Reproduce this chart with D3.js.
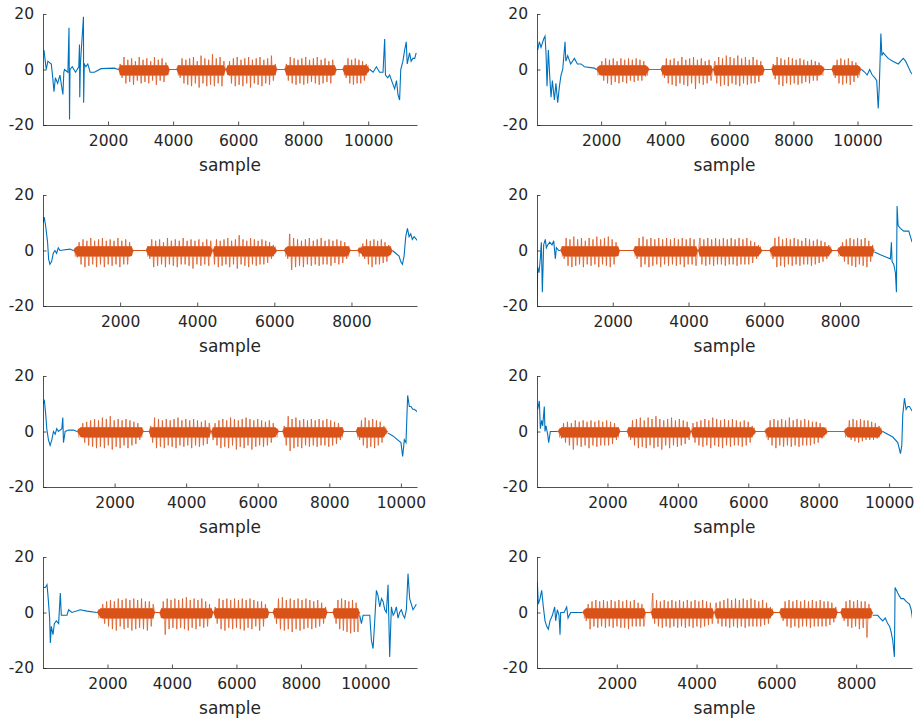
<!DOCTYPE html>
<html>
<head>
<meta charset="utf-8">
<style>
  body { margin: 0; background: #fff; }
  text { font-family: "DejaVu Sans", sans-serif; fill: #262626; }
  .axis path, .axis line { stroke: #262626; stroke-width: 0.8; }
</style>
</head>
<body>
<svg id="fig" width="914" height="721"></svg>
<script src="https://d3js.org/d3.v7.min.js"></script>
<script>
// ---- data ----
const sampleCount = [11500, 11700, 9700, 9900, 10450, 10650, 11600, 9400];
const xTicks = [2000, 4000, 6000, 8000, 10000];
const yTicks = [-20, 0, 20];

// blue trace before the first burst, [sample, value]
const blueHead = [
  [[30,7],[100,0],[150,3],[255,2],[300,-3],[337,-8],[380,-3],[450,-5],[520,-2],[612,-9],[640,-1],[663,0],[765,-1],[800,15],[816,-18],[830,0],[900,1],[1000,-1],[1100,1],[1122,9],[1130,-10],[1150,2],[1244,19],[1250,-12],[1270,2],[1320,1],[1377,2],[1450,-1],[1581,-1],[1785,0.3],[2193,0.5],[2315,0]],
  [[21,7],[73,10],[125,8],[208,11],[250,12],[281,6],[313,-6],[354,7],[400,-3],[438,-10],[480,-4],[542,-11],[590,-5],[646,-12],[700,-6],[750,-2],[802,0],[875,10],[900,3],[958,5],[1050,2],[1167,4],[1260,2],[1375,2],[1479,1],[1792,0.5],[1844,0]],
  [[6,10],[32,12],[67,9],[93,6],[119,3],[145,-3],[179,-5],[223,-4],[266,-1],[310,0],[353,-1],[396,1],[440,0],[526,0.2],[699,0.5],[786,0]],
  [[0,-20],[18,-6],[53,-8],[88,-3],[115,3],[141,-15],[176,2],[220,4],[247,1],[282,2],[335,3],[397,2],[441,3.5],[485,-3],[511,1],[573,0],[617,0]],
  [[0,10],[40,11],[77,6],[105,1],[152,-3],[199,-5],[246,-3],[292,0],[339,-1],[386,1],[432,0],[526,1],[553,5],[572,-4],[619,0],[712,0.5],[852,0.5],[946,0]],
  [[19,8],[66,11],[95,1],[133,4],[161,2],[208,9],[227,0],[256,2],[303,-1],[331,-4],[379,0],[445,0],[540,0],[587,0]],
  [[0,9],[72,9],[124,10],[155,6],[206,-2],[227,-11],[258,-5],[310,-8],[351,-4],[413,-3],[485,-4],[537,7],[568,-1],[640,-1],[743,-1],[795,1],[898,0],[1156,1],[1362,0.5],[1672,0]],
  [[8,11],[33,3],[75,5],[117,8],[159,2],[201,-3],[243,-5],[284,-6],[326,-3],[385,-1],[443,2],[468,-3],[510,1],[552,-1],[577,-8],[594,0],[678,0],[744,2],[778,-2],[845,0],[970,0],[1096,0],[1138,0]]
];

// blue trace after the last burst
const blueTail = [
  [[10050,0],[10150,-1],[10251,1],[10350,-1],[10455,-1],[10506,11],[10530,-2],[10600,-3],[10659,-2],[10750,-5],[10812,-7],[10870,-4],[10914,-9],[10965,-11],[11000,0],[11067,3],[11120,7],[11169,10],[11200,2],[11271,6],[11320,3],[11373,4],[11430,4],[11475,6]],
  [[10125,0],[10229,-1],[10300,-2],[10380,0],[10460,-2],[10542,-3],[10600,-4],[10646,-14],[10680,-6],[10729,13],[10760,5],[10802,6],[10880,5],[10958,4],[11100,3],[11271,2],[11427,4],[11500,3],[11583,1],[11660,-1],[11740,-2]],
  [[9062,0],[9148,-1],[9235,-2],[9278,-4],[9322,-5],[9365,-2],[9408,5],[9452,8],[9495,5],[9538,6],[9580,4],[9625,5],[9712,3.5]],
  [[8907,-0.5],[9066,-1.5],[9242,-2.5],[9330,-3],[9356,3],[9374,-4],[9418,-5],[9462,-8],[9489,-15],[9506,16],[9533,9],[9594,8],[9683,7],[9815,7],[9903,3]],
  [[9630,-0.5],[9769,-1.5],[9909,-3],[10002,-4],[10049,-9],[10096,-3],[10142,-4],[10189,13],[10236,9],[10283,9],[10330,8],[10376,8],[10470,7]],
  [[9820,0],[9962,-1],[10104,-2],[10246,-4],[10322,-8],[10360,-5],[10388,6],[10436,12],[10483,8],[10530,9],[10578,9],[10672,7]],
  [[9825,-1],[9876,-4],[9928,-1],[10083,-1],[10134,-1],[10186,-10],[10238,-13],[10289,-3],[10341,8],[10392,6],[10444,2],[10500,5],[10547,4],[10600,1],[10650,0],[10702,10],[10753,-16],[10805,2],[10860,-1],[10908,0],[10960,2],[11011,-2],[11060,0],[11115,1],[11170,-1],[11218,-2],[11270,1],[11321,14],[11373,5],[11424,3],[11476,1],[11530,2],[11579,3]],
  [[8415,-1],[8540,-1],[8600,-2],[8666,-3],[8730,-2],[8791,-4],[8840,-5],[8875,-7],[8917,-10],[8959,-16],[8976,9],[9010,8],[9043,7],[9080,6],[9126,5],[9190,5],[9252,4],[9336,3],[9380,1],[9420,-3]]
];

// orange bursts, [first sample, last sample]
const bursts = [
  [[2315,3896],[4100,5620],[5620,7200],[7425,9027],[9210,10050]],
  [[1844,3510],[3854,5490],[5490,7100],[7313,8979],[9188,10125]],
  [[786,2346],[2667,4400],[4400,6072],[6245,7979],[8152,9062]],
  [[617,2187],[2540,4250],[4250,5952],[6129,7804],[7919,8907]],
  [[946,2814],[2954,4699],[4699,6595],[6689,8416],[8742,9630]],
  [[587,2367],[2547,4375],[4375,6222],[6458,8258],[8712,9820]],
  [[1672,3478],[3612,5284],[5284,7018],[7121,8824],[8978,9825]],
  [[1138,2727],[2852,4442],[4442,5947],[6073,7537],[7604,8415]]
];

// peak values inside each burst, left to right
const spikes = [
  [
    [2,-3,4.5,-5,3.5,-4.5,4,-5.5,3,-4,4.5,-5,3.5,-4.5,4,-5,3,-4,4.5,-5.5,3.5,-4,4,-4.5,2.5,-2],
    [1.5,-3,4,-5,3.5,-5.5,4,-6,4.5,-5,3,-6.5,5,-5,4,-6,3.5,-5.5,5.5,-6,4,-5,4.5,-6,3],
    [-2,3,-5,4,-6,4.5,-5.5,3.5,-6,4,-5,4.5,-6.5,3.5,-5,4,-5.5,4.5,-6,3.5,-5,4,-5.5,5,-4,2],
    [2,-4,4.5,-5,4,-5.5,3.5,-5,4,-5.5,4.5,-5,3.5,-4.5,4,-5,4.5,-5.5,3.5,-5,4,-4.5,3,-5,3.5,-2],
    [1.5,-3,4,-5,3.5,-5.5,4,-5,3.5,-5,3,-4,2,-1]
  ],
  [
    [1,-2,3,-4,4,-5,3.5,-5.5,4,-4.5,3,-5,4,-4.5,3.5,-5,4,-4,3.5,-4.5,4,-4,3.5,-4,3,-2.5,1],
    [1.5,-3,4,-5,3.5,-5.5,4,-6,3,-5,4.5,-5.5,3.5,-6,4,-5,4.5,-7,3.5,-5,4,-5.5,3,-5,3.5,-4],
    [3,-5,4.5,-6,4,-5.5,5,-6,4.5,-5,4,-5.5,5,-6,4,-5,4.5,-5.5,3.5,-5,4.5,-5,3.5,-4.5,3,-2],
    [2,-3.5,4.5,-5.5,4,-6,3.5,-5,4.5,-5.5,4,-5,3.5,-5.5,4,-5,3.5,-4.5,3,-5,3.5,-4,3,-4,2.5,-2,1],
    [1.5,-3,3.5,-5,4,-5.5,3.5,-5,4,-5.5,3,-4.5,2.5,-3,1]
  ],
  [
    [1,-2.5,3,-5,4,-6,3.5,-5.5,4.5,-5,3.5,-6,4,-5,4.5,-6,3.5,-5,4,-5.5,3.5,-5,4.5,-6,3.5,-5,4,-5,3,-2],
    [1.5,-3,4,-6,3.5,-5.5,4,-5,3,-6,4.5,-5,3.5,-5.5,4,-6,3.5,-5,4.5,-5,3.5,-5.5,4,-6.5,3.5,-5,4,-5.5,3,-5,4,-5.5,3.5],
    [-5,4,-6,3.5,-5.5,4,-5,4.5,-6,3.5,-5,4,-6.5,5.5,-5,4,-5.5,3.5,-6,4.5,-5,4,-5.5,3.5,-5,4,-5,3.5,-4.5,3,-3,2,-1],
    [1,-3,6,-7,4.5,-6,4,-5.5,3.5,-6,4,-5,4.5,-5.5,3.5,-5,4,-5.5,4.5,-5,3.5,-5,4,-5.5,3.5,-4.5,4,-5,3.5,-4.5,3,-3,1.5],
    [1,-1,2.5,-3,4,-5,3.5,-6,4,-5,3.5,-5,4,-4.5,3,-4,2,-1.5]
  ],
  [
    [1.5,-3,4.5,-5.5,4,-6,5,-5.5,4,-5,4.5,-6,3.5,-5,4.5,-5.5,4,-5,5,-6,4,-5,4.5,-5.5,5,-6,4,-5,3,-2],
    [1.5,-3,4.5,-6,5,-5,4,-6,4.5,-5.5,4,-5,4.5,-6,4,-5,4.5,-5.5,4,-5,4.5,-5.5,4,-5,4.5,-6,4,-5,4.5,-5,4,-5.5],
    [4.5,-5,4,-5.5,4.5,-5,4,-5.5,4.5,-5,4,-5,4.5,-5.5,4,-5,4.5,-5,4,-5.5,4.5,-5,4,-5,4.5,-5,3.5,-4.5,3,-3,2,-1],
    [1,-3,4.5,-6,5,-5.5,4,-6,4.5,-5,4,-5.5,4.5,-5,4,-5.5,3.5,-5,4.5,-5,4,-5.5,3.5,-5,4,-4.5,3.5,-4,3,-3,2,-1],
    [1,-2,3,-4,4,-5,4.5,-5.5,4,-6,4.5,-5,4,-5.5,4.5,-6,3.5,-4,2]
  ],
  [
    [1,-2,3,-4,3.5,-5,4,-5.5,4.5,-6,4,-5.5,5,-6,4.5,-5,5.5,-6.5,4,-5.5,4.5,-6,4,-5,4.5,-6,4,-5,3.5,-4.5,3,-3,1.5],
    [2,-4,5,-6,4.5,-5.5,4,-6,4.5,-5,4,-5.5,4.5,-6,5,-5,4,-5.5,4.5,-5,4,-6,4.5,-5,4,-5.5,3.5,-5,4,-4.5,3],
    [-3,3,-5,4,-6,4.5,-5.5,4,-6,5,-5,4.5,-6.5,4,-5.5,4.5,-6,5,-5,4.5,-6.5,4,-5.5,4.5,-5,4,-5.5,3.5,-5,4,-4,3,-2,1],
    [2,-5,5.5,-7,4.5,-6,5,-5.5,4,-6,4.5,-5,4,-5.5,4.5,-5,4,-5.5,4.5,-5,4,-5,4.5,-5.5,4,-5,3.5,-4.5,3,-3,1.5],
    [1.5,-3,4,-5,5,-6,4,-5.5,4.5,-6,4,-5,3.5,-4,2,-1]
  ],
  [
    [1,-2.5,3,-4,3.5,-5,3,-6.5,4,-5,3.5,-5.5,4,-5,3.5,-6,4,-5,3.5,-5.5,4,-5,3.5,-5,4,-5,3.5,-4.5,3,-3,1.5],
    [1.5,-3,4,-5,4.5,-6,5,-5.5,4,-6,5,-5,4.5,-6,5.5,-5.5,4.5,-6.5,4,-5,4.5,-6,5,-5,4,-5.5,4.5,-5,4,-4.5,3.5,-3],
    [3,-4,3.5,-5,4,-5.5,4.5,-5,4,-6,5,-5,4.5,-5.5,4,-6,4.5,-5,4,-5.5,4.5,-5,4,-5,3.5,-5.5,4,-5,3.5,-4,2,-1],
    [1,-3,4,-5,4.5,-6,4,-5,4.5,-5.5,4,-5,5,-5.5,4,-5,4.5,-5.5,4,-5,4.5,-5,4,-5,3.5,-4.5,3.5,-4,3,-2.5,1.5,-1],
    [1,-2,4,-3,4.5,-3.5,4,-4,4.5,-3.5,4,-3,4,-3,3.5,-3,3,-2.5,2,-1]
  ],
  [
    [1,-2,3,-4,4,-5,4.5,-6,4,-6.5,5,-5,4.5,-6,5,-5.5,4.5,-6.5,5,-6,4.5,-5.5,5,-6,4,-6.5,4,-5,3],
    [-2,4,-8,5,-6,4.5,-5.5,5,-6,4.5,-5.5,5,-6,5.5,-6.5,4.5,-5.5,5,-6,4.5,-5,5,-5.5,4,-5,3,-2],
    [2,-4,5,-6,4.5,-6.5,5,-5.5,4.5,-6,5,-5.5,4.5,-6,5,-6.5,4.5,-5.5,5,-6,4.5,-5,4,-6.5,4,-5,3,-2],
    [1.5,-4,5,-6,5.5,-6.5,4.5,-6,5,-7,4.5,-6,5,-6.5,4.5,-6,5,-5.5,4.5,-6,4,-5.5,4.5,-5,3.5,-4,2],
    [1.5,-4,4.5,-6,5,-6.5,4.5,-7,4,-7.5,4.5,-7,3.5,-7]
  ],
  [
    [1,-3,3,-6,4,-5,4.5,-5.5,4,-5,4.5,-5.5,4,-5,4.5,-5.5,4,-5,4.5,-5.5,4,-5.5,4.5,-6,4,-5,4.5,-5,3.5,-5,3,-5],
    [7,-4,4.5,-5,4,-5.5,4.5,-5,4,-5.5,4.5,-5,4,-5.5,4.5,-5,4,-5.5,4.5,-5,4,-5.5,4.5,-5,4,-5.5,4.5,-5,4,-4.5,3.5,-4],
    [3.5,-4,4,-5,4.5,-5,5,-5.5,4.5,-5,5,-5.5,4.5,-5,5,-5.5,4.5,-5,5,-5,4.5,-5,4,-5,4.5,-4.5,3.5,-4,2,-1],
    [1.5,-3,4,-5,4.5,-5.5,4,-5,4.5,-5.5,4,-5,4.5,-5,4,-5.5,4.5,-5,4,-5,4.5,-5,4,-5,4,-4.5,3.5,-3.5,2],
    [1.5,-3,4,-5,4.5,-5.5,4,-5,4.5,-6,4,-5.5,4,-9,3,-2]
  ]
];

// ---- layout ----
const colLeft = [43, 537];
const colRight = [417, 912];
const rowTop = [14, 195, 376, 557];
const plotH = 111;
const blue = '#0072BD';
const orange = '#D95319';
const coreHi = 1.5, coreLo = -2.2;   // dense middle of a burst

const svg = d3.select('#fig');

sampleCount.forEach((n, i) => {
  const col = i % 2;
  const row = Math.floor(i / 2);
  const left = colLeft[col], right = colRight[col];
  const top = rowTop[row], bottom = top + plotH;

  const x = d3.scaleLinear().domain([0, n]).range([left, right]);
  const y = d3.scaleLinear().domain([-20, 20]).range([bottom, top]);

  const g = svg.append('g');

  svg.append('clipPath').attr('id', 'clip' + i)
    .append('rect').attr('x', left).attr('y', top - 1).attr('width', right - left).attr('height', plotH + 1);

  const line = d3.line().x(d => x(d[0])).y(d => y(d[1]));
  const core = d3.area().x(d => x(d[0]))
    .y0(d => y(Math.max(coreLo, -Math.abs(d[1]))))
    .y1(d => y(Math.min(coreHi, Math.abs(d[1]))));
  const plot = g.append('g').attr('clip-path', `url(#clip${i})`);

  plot.append('path').datum(blueHead[i])
    .attr('fill', 'none').attr('stroke', blue).attr('stroke-width', 1.1).attr('d', line);
  plot.append('path').datum(blueTail[i])
    .attr('fill', 'none').attr('stroke', blue).attr('stroke-width', 1.1).attr('d', line);

  // quiet stretch between the bursts
  const b = bursts[i];
  plot.append('path').datum([[b[0][0], 0], [b[b.length - 1][1], 0]])
    .attr('fill', 'none').attr('stroke', orange).attr('stroke-width', 1).attr('d', line);

  b.forEach((seg, k) => {
    const vals = spikes[i][k];
    const pos = d3.scaleLinear().domain([-1, vals.length]).range(seg);
    const pts = [[seg[0], 0]].concat(vals.map((v, j) => [pos(j), v]), [[seg[1], 0]]);
    const burst = plot.append('g');
    burst.append('path').datum(pts)
      .attr('fill', 'none').attr('stroke', orange).attr('stroke-width', 1)
      .attr('stroke-opacity', 0.45).attr('d', line);
    // each peak as a stem from the opposite side of the core
    burst.selectAll('line').data(pts.slice(1, -1)).join('line')
      .attr('x1', d => x(d[0])).attr('x2', d => x(d[0]))
      .attr('y1', d => y(d[1] > 0 ? coreLo : coreHi)).attr('y2', d => y(d[1]))
      .attr('stroke', orange).attr('stroke-width', 1).attr('stroke-opacity', 0.75);
    burst.append('path').datum(pts)
      .attr('fill', orange).attr('stroke', 'none').attr('d', core);
  });

  // axes, MATLAB style: ticks inward, no box
  g.append('g').attr('class', 'axis')
    .attr('transform', `translate(0,${bottom})`)
    .call(d3.axisBottom(x).tickValues(xTicks.filter(t => t < n)).tickFormat(d => String(d))
      .tickSizeInner(-3.5).tickSizeOuter(0).tickPadding(10))
    .call(a => a.selectAll('text').attr('font-size', 15.5).attr('font-family', '"DejaVu Sans", sans-serif').attr('fill', '#262626'));

  g.append('g').attr('class', 'axis')
    .attr('transform', `translate(${left},0)`)
    .call(d3.axisLeft(y).tickValues(yTicks).tickFormat(d => String(d))
      .tickSizeInner(-3.5).tickSizeOuter(0).tickPadding(9))
    .call(a => a.selectAll('text').attr('font-size', 15.5).attr('font-family', '"DejaVu Sans", sans-serif').attr('fill', '#262626'));

  g.append('text')
    .attr('x', (left + right) / 2)
    .attr('y', bottom + 46)
    .attr('text-anchor', 'middle')
    .attr('font-size', 17)
    .text('sample');
});
</script>
</body>
</html>
